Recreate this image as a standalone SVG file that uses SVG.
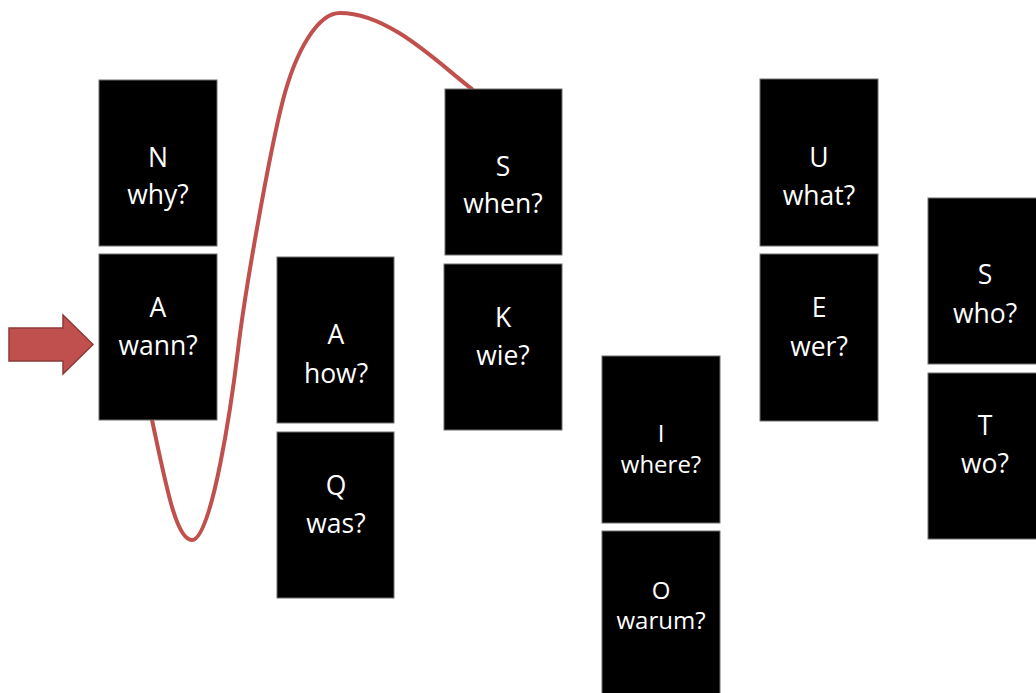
<svg xmlns="http://www.w3.org/2000/svg" width="1036" height="693" viewBox="0 0 1036 693">
<style>
.card{fill:#000;stroke:#6e6e6e;stroke-width:1}
.t{font-family:"Open Sans","Noto Sans","DejaVu Sans",sans-serif;font-size:26.5px;fill:#fff;text-anchor:middle}
.s{font-size:24px}
.curve{fill:none;stroke:#C0504D;stroke-width:4;stroke-linecap:round}
</style>
<rect width="1036" height="693" fill="#fff"/>
<g id="connectors">
<path class="curve" d="M472,89 C440,65 390,13 340,13 C318,13 296,50 283,100 C270,150 245,290 238,350 C232,400 212,540 192,540 C176,540 166,485 152,420"/>
</g>
<g id="arrow">
<polygon points="9,328 63,328 63,315 93,344.5 63,374 63,361 9,361" fill="#C0504D" stroke="#8C3A38" stroke-width="1.5"/>
</g>
<g id="card-N"><rect class="card" x="99" y="80" width="118" height="166"/><text class="t" x="158" y="167">N</text><text class="t" x="158" y="204">why?</text></g>
<g id="card-A1"><rect class="card" x="99" y="254" width="118" height="166"/><text class="t" x="158" y="317">A</text><text class="t" x="158" y="355">wann?</text></g>
<g id="card-A2"><rect class="card" x="277" y="257" width="117" height="166"/><text class="t" x="336" y="344">A</text><text class="t" x="336" y="383">how?</text></g>
<g id="card-Q"><rect class="card" x="277" y="432" width="117" height="166"/><text class="t" x="336" y="495">Q</text><text class="t" x="336" y="533">was?</text></g>
<g id="card-S1"><rect class="card" x="445" y="89" width="117" height="166"/><text class="t" x="503" y="176">S</text><text class="t" x="503" y="213">when?</text></g>
<g id="card-K"><rect class="card" x="444" y="264" width="118" height="166"/><text class="t" x="503" y="327">K</text><text class="t" x="503" y="365">wie?</text></g>
<g id="card-I"><rect class="card" x="602" y="356" width="118" height="167"/><text class="t s" x="661" y="442">I</text><text class="t s" x="661" y="473">where?</text></g>
<g id="card-O"><rect class="card" x="602" y="531" width="118" height="170"/><text class="t s" x="661" y="599">O</text><text class="t s" x="661" y="629">warum?</text></g>
<g id="card-U"><rect class="card" x="760" y="79" width="118" height="167"/><text class="t" x="819" y="167">U</text><text class="t" x="819" y="205">what?</text></g>
<g id="card-E"><rect class="card" x="760" y="254" width="118" height="167"/><text class="t" x="819" y="317">E</text><text class="t" x="819" y="356">wer?</text></g>
<g id="card-S2"><rect class="card" x="928" y="198" width="118" height="166"/><text class="t" x="985" y="284">S</text><text class="t" x="985" y="323">who?</text></g>
<g id="card-T"><rect class="card" x="928" y="373" width="118" height="166"/><text class="t" x="985" y="435">T</text><text class="t" x="985" y="473">wo?</text></g>
</svg>
